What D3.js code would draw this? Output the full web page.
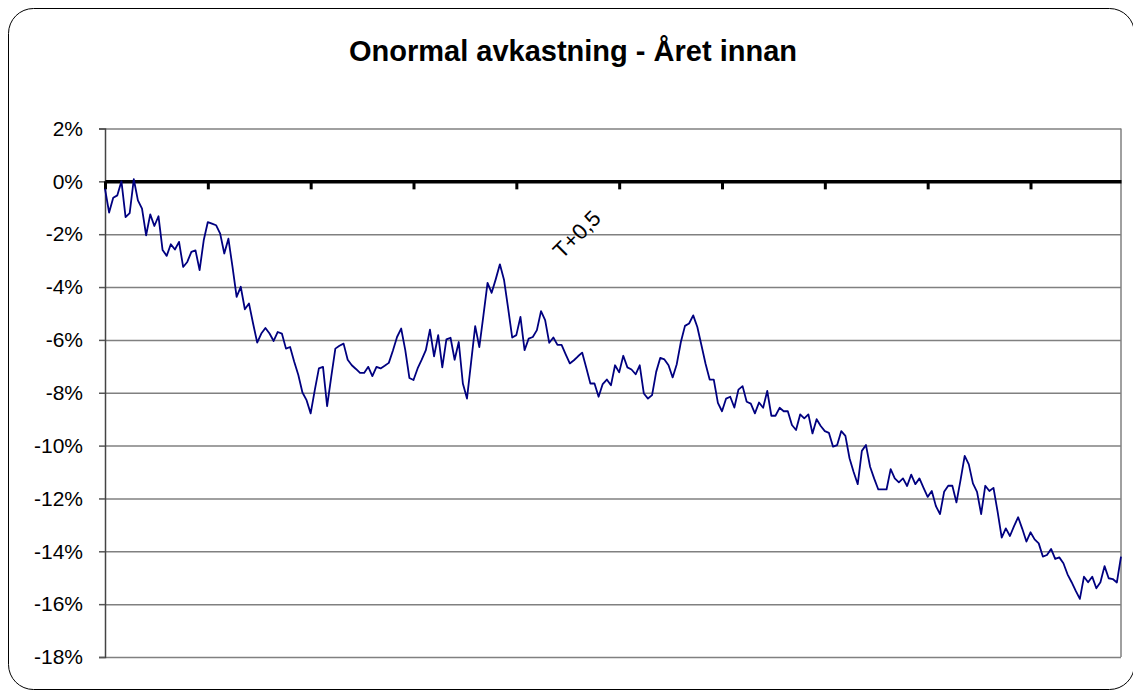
<!DOCTYPE html>
<html>
<head>
<meta charset="utf-8">
<script src="https://cdn.jsdelivr.net/npm/d3@7"></script>
<style>
  body { margin: 0; background: #fff; }
  svg { display: block; }
</style>
</head>
<body>
<div id="chart"></div>
<script>
// chart data
const title = "Onormal avkastning - Året innan";
const eventLabel = "T+0,5";
const eventIndex = 115;
const yTickValues = [2, 0, -2, -4, -6, -8, -10, -12, -14, -16, -18];
const dayTickStep = 25;

// abnormal return per trading day, in %
const returns = [
  -0.28, -1.18, -0.62, -0.53, 0.0, -1.35, -1.2, 0.08, -0.72, -1.03,
  -2.04, -1.25, -1.69, -1.32, -2.6, -2.82, -2.38, -2.58, -2.29, -3.24,
  -3.05, -2.67, -2.61, -3.36, -2.23, -1.54, -1.6, -1.66, -1.98, -2.73,
  -2.17, -3.24, -4.37, -3.99, -4.84, -4.62, -5.38, -6.1, -5.76, -5.55,
  -5.76, -6.04, -5.7, -5.76, -6.33, -6.27, -6.83, -7.33, -7.99, -8.28,
  -8.78, -7.9, -7.08, -7.02, -8.51, -7.4, -6.33, -6.22, -6.14, -6.75,
  -6.96, -7.1, -7.25, -7.25, -7.02, -7.37, -7.02, -7.08, -6.98, -6.87,
  -6.4, -5.89, -5.57, -6.39, -7.44, -7.52, -7.08, -6.75, -6.39, -5.61,
  -6.62, -5.82, -7.04, -5.98, -5.92, -6.75, -6.08, -7.65, -8.22, -6.85,
  -5.48, -6.27, -5.07, -3.84, -4.22, -3.7, -3.14, -3.72, -4.8, -5.91,
  -5.82, -5.13, -6.39, -5.95, -5.89, -5.63, -4.91, -5.25, -6.11, -5.91,
  -6.19, -6.19, -6.55, -6.89, -6.77, -6.62, -6.48, -7.05, -7.65, -7.65,
  -8.15, -7.67, -7.5, -7.72, -6.96, -7.23, -6.6, -7.04, -7.12, -7.3,
  -6.96, -8.03, -8.22, -8.09, -7.21, -6.68, -6.74, -6.96, -7.42, -6.92,
  -6.08, -5.47, -5.38, -5.07, -5.51, -6.2, -6.9, -7.5, -7.5, -8.38,
  -8.7, -8.22, -8.15, -8.56, -7.88, -7.75, -8.34, -8.41, -8.78, -8.37,
  -8.57, -7.93, -8.87, -8.87, -8.57, -8.7, -8.7, -9.22, -9.41, -8.82,
  -8.97, -8.82, -9.54, -9.0, -9.26, -9.45, -9.52, -10.04, -9.98, -9.45,
  -9.63, -10.48, -11.0, -11.46, -10.2, -9.98, -10.8, -11.25, -11.66, -11.66,
  -11.66, -10.89, -11.24, -11.39, -11.24, -11.53, -11.1, -11.46, -11.24, -11.6,
  -11.94, -11.72, -12.29, -12.59, -11.75, -11.52, -11.52, -12.15, -11.3, -10.39,
  -10.71, -11.43, -11.75, -12.59, -11.52, -11.72, -11.6, -12.5, -13.48, -13.13,
  -13.42, -13.05, -12.71, -13.15, -13.63, -13.28, -13.55, -13.7, -14.2, -14.14,
  -13.91, -14.29, -14.23, -14.45, -14.87, -15.17, -15.5, -15.8, -14.96, -15.17,
  -14.96, -15.4, -15.17, -14.56, -15.02, -15.05, -15.18, -14.2
];

const width = 1133, height = 691;
const plot = { left: 105, right: 1121, top: 128.5, bottom: 657 };

const svg = d3.select("#chart").append("svg")
    .attr("width", width)
    .attr("height", height)
    .style("font-family", "Arial, 'Liberation Sans', sans-serif");

// outer frame
svg.append("rect")
    .attr("x", 8.5).attr("y", 8.5)
    .attr("width", 1126).attr("height", 681)
    .attr("rx", 25).attr("ry", 25)
    .attr("fill", "#fff")
    .attr("stroke", "#000")
    .attr("stroke-width", 1);

svg.append("text")
    .attr("x", 573).attr("y", 61)
    .attr("text-anchor", "middle")
    .attr("font-size", "29px")
    .attr("font-weight", "bold")
    .text(title);

const x = d3.scaleLinear()
    .domain([0, returns.length - 1])
    .range([plot.left, plot.right]);

const y = d3.scaleLinear()
    .domain([-18, 2])
    .range([plot.bottom, plot.top]);

// horizontal gridlines
const grid = svg.append("g")
    .attr("transform", `translate(${plot.left},0)`)
    .call(d3.axisLeft(y).tickValues(yTickValues).tickSize(-(plot.right - plot.left)).tickFormat(""));
grid.select(".domain").remove();
grid.selectAll(".tick line").attr("stroke", "#808080").attr("stroke-width", 1.5);

// right border of plot area
svg.append("line")
    .attr("x1", plot.right).attr("x2", plot.right)
    .attr("y1", plot.top).attr("y2", plot.bottom)
    .attr("stroke", "#808080").attr("stroke-width", 1.5);

// y axis
const yAxis = svg.append("g")
    .attr("transform", `translate(${plot.left},0)`)
    .call(d3.axisLeft(y).tickValues(yTickValues).tickSize(6).tickPadding(16).tickFormat(d => d + "%"));
yAxis.select(".domain").attr("stroke", "#444").attr("stroke-width", 1.5);
yAxis.selectAll(".tick line").attr("stroke", "#555").attr("stroke-width", 1.5);
yAxis.selectAll(".tick text")
    .attr("font-size", "21px")
    .attr("fill", "#000")
    .attr("font-family", "Arial, 'Liberation Sans', sans-serif");

// zero line with day ticks
const xAxis = svg.append("g")
    .attr("transform", `translate(0,${y(0)})`)
    .call(d3.axisBottom(x).tickValues(d3.range(0, returns.length, dayTickStep)).tickSize(8).tickSizeOuter(0).tickFormat(""));
xAxis.select(".domain").attr("stroke", "#000").attr("stroke-width", 3.5);
xAxis.selectAll(".tick line").attr("stroke", "#000").attr("stroke-width", 3);

// return line
const line = d3.line()
    .x((d, i) => x(i))
    .y(d => y(d));

svg.append("path")
    .datum(returns)
    .attr("fill", "none")
    .attr("stroke", "#000080")
    .attr("stroke-width", 1.8)
    .attr("stroke-linejoin", "round")
    .attr("d", line);

// event label
svg.append("text")
    .attr("transform", `translate(${x(eventIndex)},${y(-2.05)}) rotate(-45)`)
    .attr("text-anchor", "middle")
    .attr("dominant-baseline", "middle")
    .attr("font-size", "22px")
    .text(eventLabel);
</script>
</body>
</html>
